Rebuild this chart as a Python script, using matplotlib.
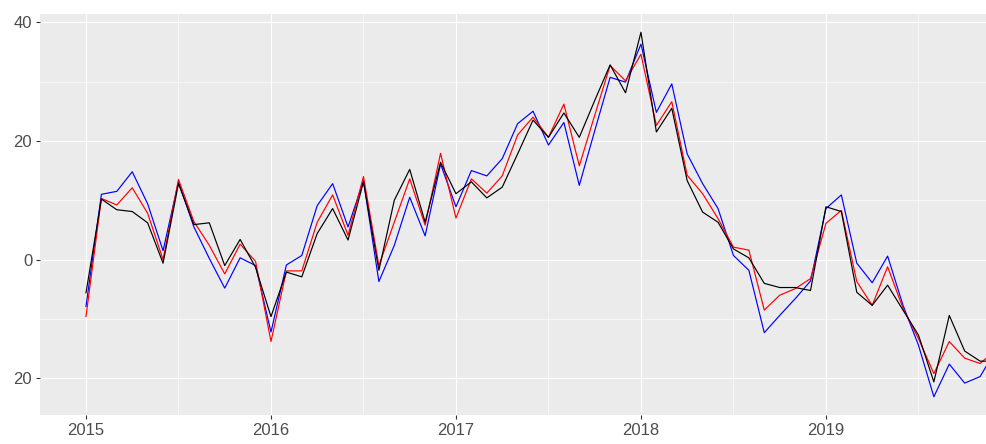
import numpy as np
import matplotlib
matplotlib.use("Agg")
import matplotlib.pyplot as plt

# monthly values, Jan 2015 .. Dec 2019
start_year = 2015
black_vals = [-5.6, 10.2, 8.4, 8.1, 6.2, -0.6, 12.8, 5.9, 6.2, -1.0, 3.4, -1.3,
              -9.6, -2.1, -2.9, 4.4, 8.6, 3.3, 13.1, -1.8, 10.0, 15.2, 6.3, 16.4,
              11.1, 13.1, 10.4, 12.2, 17.8, 23.5, 20.6, 24.7, 20.6, 26.8, 32.8, 28.1,
              38.3, 21.5, 25.5, 13.3, 8.0, 6.3, 1.8, 0.3, -4.0, -4.7, -4.7, -5.2,
              8.9, 8.1, -5.5, -7.7, -4.3, -8.5, -12.7, -20.6, -9.4, -15.4, -17.1, -17.1]
red_vals = [-9.6, 10.3, 9.2, 12.1, 7.8, 0.0, 13.5, 6.4, 2.4, -2.4, 2.6, -0.3,
            -13.8, -1.9, -1.9, 6.3, 10.9, 4.1, 14.0, -1.0, 6.3, 13.6, 5.8, 17.9,
            7.0, 13.6, 11.2, 14.1, 21.0, 24.0, 20.6, 26.2, 15.8, 24.3, 32.7, 30.1,
            34.6, 22.6, 26.6, 14.2, 11.1, 6.9, 2.1, 1.6, -8.5, -6.0, -4.9, -3.2,
            6.1, 8.3, -3.7, -7.7, -1.2, -8.2, -13.3, -19.2, -13.8, -16.6, -17.5, -15.2]
blue_vals = [-7.9, 11.0, 11.5, 14.8, 9.4, 1.5, 13.1, 5.5, 0.2, -4.8, 0.3, -1.0,
             -12.2, -0.9, 0.7, 9.1, 12.8, 5.5, 13.3, -3.7, 2.4, 10.5, 4.0, 16.1,
             8.9, 15.0, 14.1, 17.0, 22.9, 25.0, 19.3, 23.1, 12.5, 21.7, 30.7, 29.9,
             36.3, 24.8, 29.6, 17.8, 12.8, 8.6, 0.7, -1.8, -12.3, -9.4, -6.6, -3.6,
             8.6, 10.9, -0.6, -3.9, 0.6, -7.7, -14.4, -23.1, -17.6, -20.8, -19.7, -15.3]
x_ticks = [2015, 2016, 2017, 2018, 2019]
y_ticks = [-20, 0, 20, 40]
y_labels = ["20", "0", "20", "40"]  # minus sign missing in the original

t = start_year + np.arange(len(black_vals)) / 12.0

plt.rcParams['font.family'] = ['Liberation Sans', 'DejaVu Sans']
fig = plt.figure(figsize=(9.87, 4.44), dpi=100)
# panel runs past the right edge of the picture (image is cropped)
ax = fig.add_axes([40.5 / 987, 29 / 444, 1000.5 / 987, 401 / 444])
ax.set_facecolor("#EBEBEB")

ax.plot(t, blue_vals, color="blue", lw=0.85)
ax.plot(t, red_vals, color="red", lw=0.85)
ax.plot(t, black_vals, color="black", lw=0.85)

# ggplot-like 5% expansion
all_y = np.concatenate([black_vals, red_vals, blue_vals])
yr = all_y.max() - all_y.min()
ax.set_ylim(all_y.min() - 0.05 * yr, all_y.max() + 0.05 * yr)
xr = t[-1] - t[0]
ax.set_xlim(t[0] - 0.05 * xr, t[-1] + 0.05 * xr)

ax.set_xticks(x_ticks)
ax.set_xticks([x + 0.5 for x in x_ticks], minor=True)
ax.set_yticks(y_ticks)
ax.set_yticklabels(y_labels)
ax.set_yticks([-10, 10, 30], minor=True)
ax.grid(which="major", color="white", lw=0.8)
ax.grid(which="minor", color="white", lw=0.4)
ax.set_axisbelow(True)
for s in ax.spines.values():
    s.set_visible(False)
ax.tick_params(which="major", length=3, width=0.8, color="#333333",
               labelcolor="#4D4D4D", labelsize=12, pad=3)
ax.tick_params(which="minor", length=0)

fig.savefig("out.png", dpi=100)
